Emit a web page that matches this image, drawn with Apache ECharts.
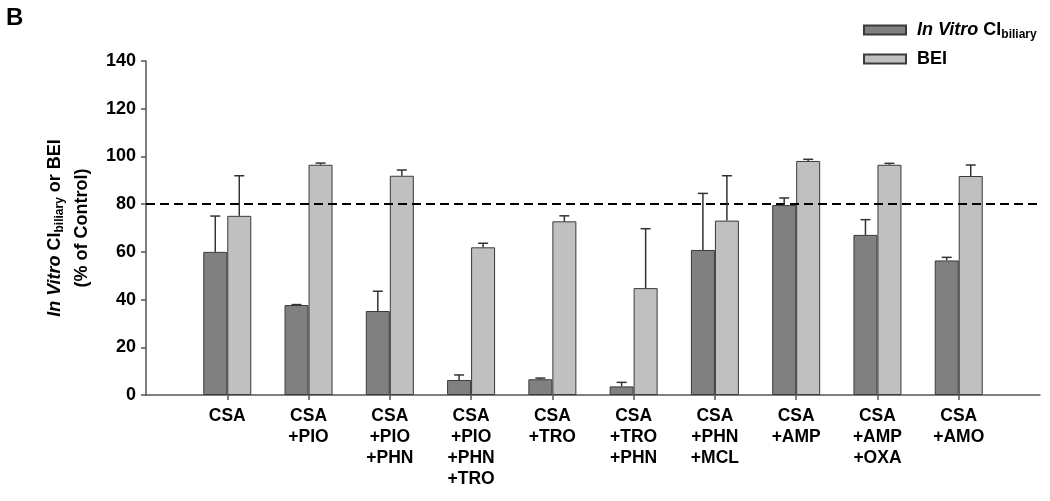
<!DOCTYPE html>
<html><head><meta charset="utf-8">
<script src="https://cdn.jsdelivr.net/npm/echarts@6/dist/echarts.min.js"></script>
<style>html,body{margin:0;padding:0;background:#fff}#c{width:1050px;height:501px}</style>
</head><body><div id="c"></div>
<script>
const categories = ['CSA', 'CSA\n+PIO', 'CSA\n+PIO\n+PHN', 'CSA\n+PIO\n+PHN\n+TRO', 'CSA\n+TRO', 'CSA\n+TRO\n+PHN', 'CSA\n+PHN\n+MCL', 'CSA\n+AMP', 'CSA\n+AMP\n+OXA', 'CSA\n+AMO'];
const clBiliary = [60, 37.7, 35.2, 6.3, 6.6, 3.6, 60.8, 79.6, 67.1, 56.4];
const clBiliaryErr = [15, 0.2, 8.3, 2.1, 0.5, 1.7, 23.7, 3.0, 6.4, 1.3];
const bei = [75.1, 96.5, 91.9, 61.9, 72.8, 44.8, 73.1, 98.1, 96.5, 91.8];
const beiErr = [16.8, 0.7, 2.4, 1.7, 2.3, 24.9, 18.8, 0.7, 0.6, 4.6];
const yTicks = [0, 20, 40, 60, 80, 100, 120, 140];
const refLine = 80;

const axisCats = [''].concat(categories, ['']);
const font = '"Liberation Sans", Arial, sans-serif';
const chart = echarts.init(document.getElementById('c'));

function errSeries(vals, errs, offset) {
  return {
    type: 'custom', z: 5, silent: true,
    data: vals.map((v, i) => [i + 1, v, v + errs[i]]),
    renderItem: function (params, api) {
      const base = api.coord([api.value(0), api.value(1)]);
      const top = api.coord([api.value(0), api.value(2)]);
      const x = base[0] + offset;
      const st = { stroke: '#333', lineWidth: 1.5 };
      return { type: 'group', children: [
        { type: 'line', shape: { x1: x, y1: base[1], x2: x, y2: top[1] }, style: st },
        { type: 'line', shape: { x1: x - 5, y1: top[1], x2: x + 5, y2: top[1] }, style: st }
      ]};
    }
  };
}

const richBase = {
  i: { fontFamily: font, fontWeight: 'bold', fontStyle: 'italic', fontSize: 18, color: '#000' },
  b: { fontFamily: font, fontWeight: 'bold', fontSize: 18, color: '#000' },
  s: { fontFamily: font, fontWeight: 'bold', fontSize: 12, color: '#000', padding: [10, 0, 0, 0] }
};

chart.setOption({
  animation: false,
  title: { text: 'B', left: 1, top: 1, textStyle: { fontFamily: font, fontWeight: 'bold', fontSize: 24, color: '#000' } },
  legend: {
    orient: 'vertical', left: 858, top: 16, itemWidth: 42, itemHeight: 9, itemGap: 9,
    icon: 'rect',
    data: ['In Vitro CIbiliary', 'BEI'],
    formatter: function (n) { return n === 'BEI' ? '{b|BEI}' : '{i|In Vitro} {b|CI}{s|biliary}'; },
    textStyle: {
      fontFamily: font, fontWeight: 'bold', fontSize: 18, color: '#000', padding: [0, 0, 0, 6],
      rich: richBase
    }
  },
  grid: { left: 146, right: 10, top: 61, bottom: 106 },
  xAxis: {
    type: 'category', data: axisCats, boundaryGap: false,
    axisLine: { lineStyle: { color: '#555', width: 1.5 } },
    axisTick: { length: 5, interval: function (i) { return i > 0 && i < axisCats.length - 1; }, lineStyle: { color: '#555', width: 1.5 } },
    axisLabel: { interval: 0, margin: 11, fontFamily: font, fontWeight: 'bold', fontSize: 17.5, color: '#000', lineHeight: 21 }
  },
  yAxis: {
    type: 'value', min: 0, max: 140, interval: 20,
    name: '{i|In Vitro} {b|CI}{s|biliary}{b| or BEI}\n{b|(% of Control)}',
    nameLocation: 'middle', nameGap: 50, nameRotate: 90,
    nameTextStyle: {
      fontFamily: font, fontWeight: 'bold', fontSize: 18, color: '#000', lineHeight: 27,
      rich: richBase
    },
    splitLine: { show: false },
    axisLine: { show: true, lineStyle: { color: '#555', width: 1.5 } },
    axisTick: { show: true, length: 5, lineStyle: { color: '#555', width: 1.5 } },
    axisLabel: { margin: 10, fontFamily: font, fontWeight: 'bold', fontSize: 18, color: '#000',
      formatter: function (v) { return yTicks.indexOf(v) >= 0 ? String(v) : ''; } }
  },
  series: [
    {
      name: 'In Vitro CIbiliary', type: 'bar', barWidth: 24, barGap: '0%',
      data: clBiliary.map((v, i) => [i + 1, v]),
      itemStyle: { color: '#808080', borderColor: '#3a3a3a', borderWidth: 1 },
      markLine: {
        silent: true, symbol: 'none', label: { show: false },
        lineStyle: { color: '#000', width: 2.2, type: [9, 5] },
        data: [{ yAxis: refLine }]
      }
    },
    {
      name: 'BEI', type: 'bar', barWidth: 24, barGap: '0%',
      data: bei.map((v, i) => [i + 1, v]),
      itemStyle: { color: '#c0c0c0', borderColor: '#3a3a3a', borderWidth: 1 }
    },
    errSeries(clBiliary, clBiliaryErr, -12),
    errSeries(bei, beiErr, 12)
  ]
});
</script></body></html>
